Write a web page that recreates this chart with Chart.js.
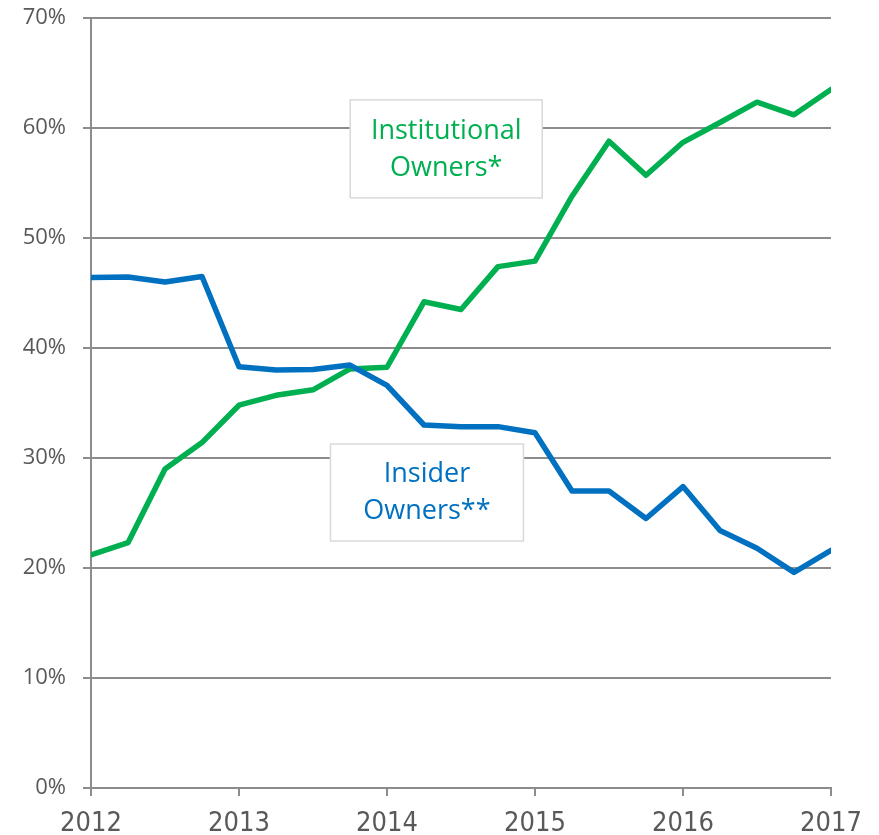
<!DOCTYPE html>
<html>
<head>
<meta charset="utf-8">
<script src="https://cdn.jsdelivr.net/npm/chart.js@4.4.1/dist/chart.umd.min.js"></script>
<style>
  html, body { margin: 0; padding: 0; background: #fff; }
  #wrap { width: 879px; height: 835px; position: relative; }
</style>
</head>
<body>
<div id="wrap"><canvas id="ownersChart"></canvas></div>
<script>
// --- DATA ---
const quarters = [2012, 2012.25, 2012.5, 2012.75, 2013, 2013.25, 2013.5, 2013.75, 2014, 2014.25, 2014.5,
                  2014.75, 2015, 2015.25, 2015.5, 2015.75, 2016, 2016.25, 2016.5, 2016.75, 2017];
const institutional = [21.2, 22.3, 29.0, 31.4, 34.8, 35.7, 36.2, 38.1, 38.25, 44.2, 43.5,
                       47.4, 47.9, 53.8, 58.8, 55.7, 58.7, 60.5, 62.35, 61.2, 63.5];
const insider = [46.4, 46.45, 46.0, 46.5, 38.3, 38.0, 38.05, 38.45, 36.6, 33.0, 32.85,
                 32.85, 32.3, 27.0, 27.0, 24.5, 27.4, 23.4, 21.8, 19.6, 21.6];
const yearTicks = [2012, 2013, 2014, 2015, 2016, 2017];
const labelInstitutional = ['Institutional', 'Owners*'];
const labelInsider = ['Insider', 'Owners**'];

// --- ESTILOS ---
const GREEN = '#00B050';
const BLUE = '#0070C0';
const GRID = '#8c8c8c';
const TEXT = '#595959';

// caixas de texto (centro em unidades do gráfico)
const boxes = [
    { lines: labelInstitutional, color: GREEN, x: 2014.4, y: 58.1, w: 192, h: 98 },
    { lines: labelInsider, color: BLUE, x: 2014.27, y: 26.86, w: 193, h: 97 }
];

const boxPlugin = {
    id: 'boxes',
    afterDatasetsDraw(chart) {
        const ctx = chart.ctx;
        const xs = chart.scales.x, ys = chart.scales.y;
        boxes.forEach(b => {
            const cx = xs.getPixelForValue(b.x);
            const cy = ys.getPixelForValue(b.y);
            ctx.save();
            ctx.fillStyle = '#ffffff';
            ctx.strokeStyle = '#d9d9d9';
            ctx.lineWidth = 1.5;
            ctx.fillRect(cx - b.w / 2, cy - b.h / 2, b.w, b.h);
            ctx.strokeRect(cx - b.w / 2, cy - b.h / 2, b.w, b.h);
            ctx.fillStyle = b.color;
            ctx.font = '27px "Open Sans"';
            ctx.textAlign = 'center';
            ctx.textBaseline = 'middle';
            ctx.fillText(b.lines[0], cx, cy - 18);
            ctx.fillText(b.lines[1], cx, cy + 19);
            ctx.restore();
        });
    }
};

const toPoints = arr => arr.map((v, i) => ({ x: quarters[i], y: v }));

new Chart(document.getElementById('ownersChart'), {
    type: 'line',
    data: {
        datasets: [
            {
                label: 'Insider Owners**',
                data: toPoints(insider),
                borderColor: BLUE,
                borderWidth: 5.5,
                pointRadius: 0,
                borderCapStyle: 'round',
                borderJoinStyle: 'round',
                tension: 0
            },
            {
                label: 'Institutional Owners*',
                data: toPoints(institutional),
                borderColor: GREEN,
                borderWidth: 5.5,
                pointRadius: 0,
                borderCapStyle: 'round',
                borderJoinStyle: 'round',
                tension: 0
            }
        ]
    },
    options: {
        responsive: true,
        maintainAspectRatio: false,
        animation: false,
        layout: { padding: { top: 18, right: 48, left: 0, bottom: 0 } },
        plugins: {
            legend: { display: false },
            tooltip: { enabled: false }
        },
        scales: {
            x: {
                type: 'linear',
                min: 2012,
                max: 2017,
                afterBuildTicks: scale => { scale.ticks = yearTicks.map(v => ({ value: v })); },
                afterFit: scale => {
                    scale.height = 47;
                    scale.paddingLeft = 0;
                    scale.paddingRight = 0;
                },
                grid: { drawOnChartArea: false, color: GRID, lineWidth: 2, tickLength: 8 },
                border: { color: GRID, width: 2 },
                ticks: {
                    color: TEXT,
                    font: { family: '"Liberation Sans Narrow", "DejaVu Sans Condensed", sans-serif', size: 27 },
                    padding: 12,
                    maxRotation: 0,
                    callback: v => String(v)
                }
            },
            y: {
                min: 0,
                max: 70,
                afterFit: scale => {
                    scale.width = 91;
                    scale.paddingTop = 0;
                    scale.paddingBottom = 0;
                },
                grid: { color: GRID, lineWidth: 2, tickLength: 8 },
                border: { color: GRID, width: 2 },
                ticks: {
                    stepSize: 10,
                    color: TEXT,
                    font: { family: '"Open Sans"', size: 22 },
                    padding: 17,
                    callback: v => v + '%'
                }
            }
        }
    },
    plugins: [boxPlugin]
});
</script>
</body>
</html>
